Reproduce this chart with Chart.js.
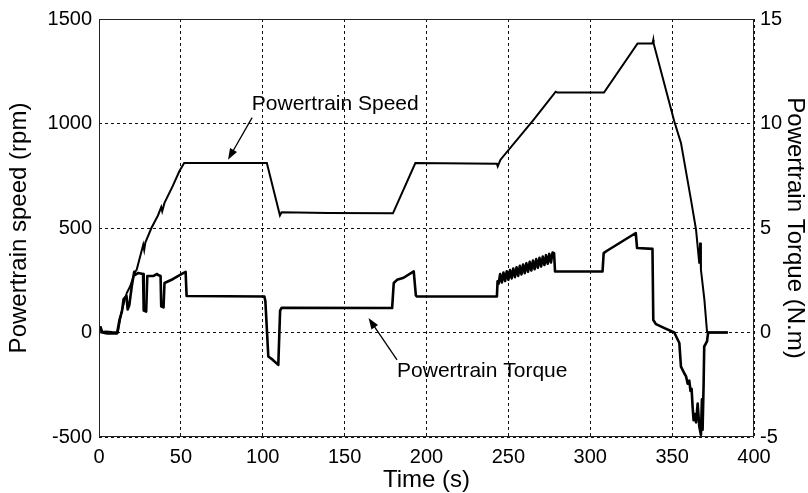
<!DOCTYPE html>
<html>
<head>
<meta charset="utf-8">
<script src="https://cdn.jsdelivr.net/npm/chart.js@4"></script>
<style>
  body { margin: 0; background: #fff; }
  canvas { display: block; }
</style>
</head>
<body>
<canvas id="powertrain" width="808" height="493"></canvas>
<script>
// speed trace (left axis, rpm)
const speedTime = [0, 4, 8, 11.5, 13.5, 15.5, 17, 19, 22, 23, 25, 27, 27.6, 28.3, 32, 36, 38, 38.6, 40, 45, 49, 52, 53,
  102.5, 110.5, 111.5, 140, 179.5, 193.2, 243, 243.5, 245.2, 265.6, 278.9, 280, 308.4, 328.9, 338, 338.5, 338.7,
  351.3, 355.4, 361.5, 364.6, 366.6, 367.1, 367.6, 369.7, 371.3, 372, 384];
const speedRpm = [0, 5, 2, 0, 90, 150, 190, 220, 290, 300, 360, 420, 395, 430, 500, 560, 600, 580, 620, 700, 770, 811, 811,
  811, 560, 575, 572, 570, 811, 808, 795, 827, 1020, 1152, 1148, 1148, 1383, 1383, 1400, 1383,
  1011, 907, 636, 492, 330, 430, 300, 157, 5, 0, 0];

// torque trace (right axis, N.m), same count per line in both arrays
const torqueTime = [
  0, 1, 2, 5, 11, 12.5, 14, 15, 16.8, 17.5, 18.5, 20, 21.5, 22, 24, 26.9,
  27.3, 28.8, 29.5, 31, 33, 35.5, 36.1, 37.6, 38, 39.4, 40, 45, 51.4, 52.9,
  53.5, 101, 101.6, 103.4, 106, 109.5, 110.6, 111.5, 179, 180, 182, 186, 192.2, 193.5, 194.2, 243, 243.4,
  244, 245, 246, 247, 248, 249, 250, 251, 252, 253, 254, 255, 256, 257, 258, 259, 260,
  261, 262, 263, 264, 265, 266, 267, 268, 269, 270, 271, 272, 273, 274, 275, 276, 277,
  277.9, 278.5, 307.5, 308.2, 310, 327.8, 328.6, 338, 338.5, 340.1, 345, 351.3, 354.4, 355.4, 357.4, 358.5,
  359.5, 360.5, 361.2, 361.9, 362.5, 363.1, 363.8, 364.6, 365.6, 366.6, 367.6, 368.2, 368.6, 369.2, 369.6, 371.3,
  372, 384];
const torqueNm = [
  0.1, 0.25, 0.0, -0.05, -0.05, 0.6, 1.0, 1.6, 1.75, 1.1, 1.3, 2.2, 2.9, 2.75, 2.85, 2.8,
  1.05, 1.0, 2.7, 2.7, 2.7, 2.8, 2.75, 2.7, 1.25, 1.2, 2.37, 2.55, 2.84, 2.9,
  1.75, 1.72, 1.5, -1.15, -1.3, -1.55, 1.05, 1.18, 1.17, 2.37, 2.52, 2.62, 2.92, 1.78, 1.72, 1.72, 2.45,
  2.33, 2.80, 2.39, 2.87, 2.46, 2.93, 2.52, 2.99, 2.59, 3.06, 2.65, 3.12, 2.71, 3.19, 2.78, 3.25, 2.84,
  3.31, 2.91, 3.38, 2.97, 3.44, 3.03, 3.51, 3.10, 3.57, 3.16, 3.63, 3.23, 3.70, 3.29, 3.76, 3.35, 3.83,
  3.8, 2.92, 2.92, 3.8, 3.9, 4.76, 4.04, 4.0, 0.6, 0.4, 0.22, 0.0, -0.5, -1.63, -1.95, -2.1,
  -2.45, -2.3, -2.8, -2.7, -3.55, -4.2, -3.9, -4.3, -3.4, -4.5, -4.9, -3.2, -4.65, -2.6, -0.67, -0.43,
  0.0, 0.0];

const xTickValues = [0, 50, 100, 150, 200, 250, 300, 350, 400];

const notes = [
  { text: "Powertrain Speed", textAt: [93.3, 1091], from: [93.5, 1028], to: [78.8, 827] },
  { text: "Powertrain Torque", textAt: [182, -187], from: [182, -131], to: [164.6, 69] }
];

const FONT = "'Liberation Sans', Arial, sans-serif";

const toPoints = (xs, ys) => xs.map((x, i) => ({ x: x, y: ys[i] }));

const frameAndNotes = {
  id: "frameAndNotes",
  afterDatasetsDraw(chart) {
    const { ctx, chartArea, scales } = chart;
    ctx.save();
    ctx.strokeStyle = "#222";
    ctx.lineWidth = 1;
    ctx.setLineDash([]);
    ctx.strokeRect(chartArea.left + 0.5, chartArea.top + 0.5,
      chartArea.right - chartArea.left - 1, chartArea.bottom - chartArea.top - 1);

    ctx.fillStyle = "#000";
    ctx.strokeStyle = "#000";
    ctx.font = "21px " + FONT;
    ctx.textBaseline = "middle";
    ctx.textAlign = "left";
    notes.forEach(note => {
      const px = v => [scales.x.getPixelForValue(v[0]), scales.y.getPixelForValue(v[1])];
      const [tx, ty] = px(note.textAt);
      ctx.fillText(note.text, tx, ty);
      const [x1, y1] = px(note.from);
      const [x2, y2] = px(note.to);
      const ang = Math.atan2(y2 - y1, x2 - x1);
      ctx.lineWidth = 1.3;
      ctx.beginPath();
      ctx.moveTo(x1, y1);
      ctx.lineTo(x2 - 8 * Math.cos(ang), y2 - 8 * Math.sin(ang));
      ctx.stroke();
      ctx.beginPath();
      ctx.moveTo(x2, y2);
      ctx.lineTo(x2 - 11 * Math.cos(ang) + 4 * Math.sin(ang), y2 - 11 * Math.sin(ang) - 4 * Math.cos(ang));
      ctx.lineTo(x2 - 11 * Math.cos(ang) - 4 * Math.sin(ang), y2 - 11 * Math.sin(ang) + 4 * Math.cos(ang));
      ctx.closePath();
      ctx.fill();
    });
    ctx.restore();
  }
};

const gridStyle = {
  color: "#111",
  lineWidth: 1,
  drawTicks: false
};

const plainTick = value => String(value);

const config = {
  type: "line",
  data: {
    datasets: [{
      label: "Powertrain Speed",
      data: toPoints(speedTime, speedRpm),
      yAxisID: "y",
      borderColor: "#000",
      borderWidth: 2,
      pointRadius: 0,
      tension: 0
    }, {
      label: "Powertrain Torque",
      data: toPoints(torqueTime, torqueNm),
      yAxisID: "y1",
      borderColor: "#000",
      borderWidth: 2.6,
      borderJoinStyle: "round",
      pointRadius: 0,
      tension: 0
    }]
  },
  options: {
    responsive: false,
    animation: false,
    layout: { padding: { top: 18, left: 0, right: 0, bottom: 0 } },
    plugins: {
      legend: { display: false },
      tooltip: { enabled: false }
    },
    scales: {
      x: {
        type: "linear",
        min: 0,
        max: 400,
        afterBuildTicks: scale => { scale.ticks = xTickValues.map(v => ({ value: v })); },
        afterFit: scale => { scale.height = 56; },
        grid: gridStyle,
        border: { display: false, dash: [3, 3] },
        ticks: {
          color: "#000",
          padding: 8,
          autoSkip: false,
          maxRotation: 0,
          callback: plainTick,
          font: { family: FONT, size: 20 }
        },
        title: {
          display: true,
          text: "Time (s)",
          color: "#000",
          padding: { top: 0, bottom: 1 },
          font: { family: FONT, size: 24, lineHeight: 1 }
        }
      },
      y: {
        position: "left",
        min: -500,
        max: 1500,
        afterFit: scale => { scale.width = 99; },
        grid: gridStyle,
        border: { display: false, dash: [3, 3] },
        ticks: {
          stepSize: 500,
          color: "#000",
          padding: 7,
          callback: plainTick,
          font: { family: FONT, size: 20 }
        },
        title: {
          display: true,
          text: "Powertrain speed (rpm)",
          color: "#000",
          padding: { top: 7, bottom: 0 },
          font: { family: FONT, size: 24, lineHeight: 1 }
        }
      },
      y1: {
        position: "right",
        min: -5,
        max: 15,
        afterFit: scale => { scale.width = 54; },
        grid: { display: false, drawTicks: false },
        border: { display: false },
        ticks: {
          stepSize: 5,
          color: "#000",
          padding: 6,
          callback: plainTick,
          font: { family: FONT, size: 20 }
        },
        title: {
          display: true,
          text: "Powertrain Torque (N.m)",
          color: "#000",
          padding: { top: 1, bottom: 0 },
          font: { family: FONT, size: 24, lineHeight: 1 }
        }
      }
    }
  },
  plugins: [frameAndNotes]
};

const powertrainChart = new Chart(
  document.getElementById("powertrain"),
  config
);
</script>
</body>
</html>
